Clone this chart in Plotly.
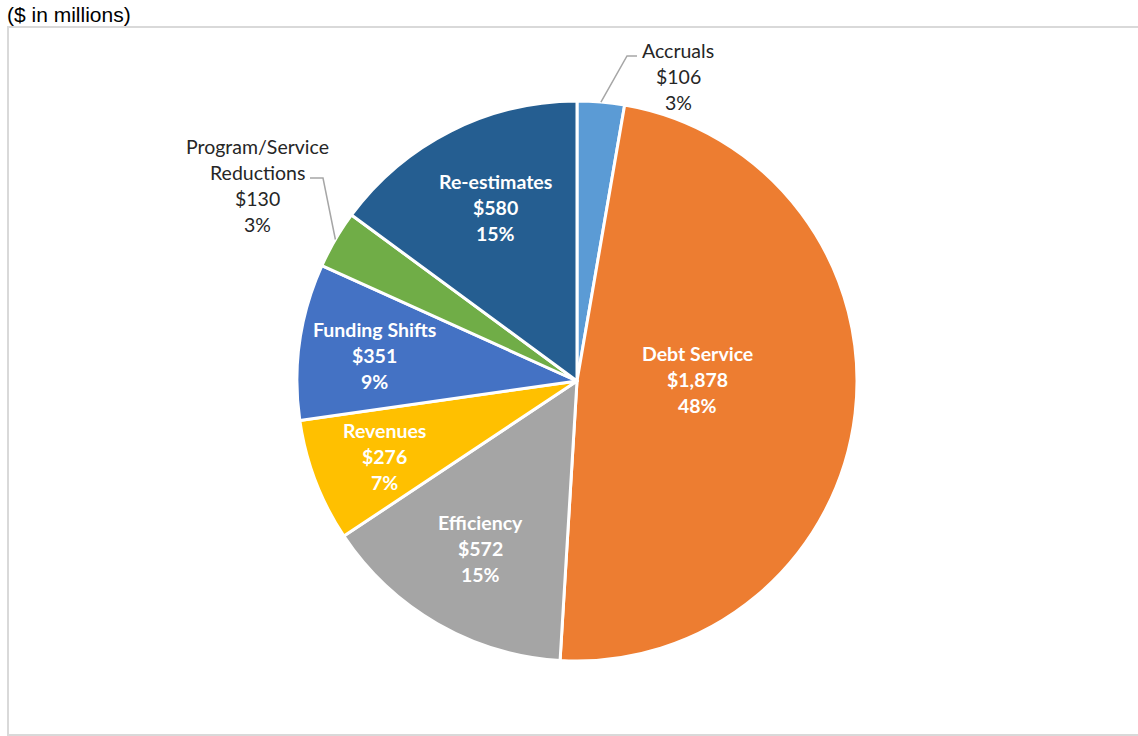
import numpy as np
import plotly.graph_objects as go

# Budget gap-closing components ($ in millions)
categories = ["Accruals", "Debt Service", "Efficiency", "Revenues",
              "Funding Shifts", "Program/Service Reductions", "Re-estimates"]
values = [106, 1878, 572, 276, 351, 130, 580]
colors = ["#5B9BD5", "#ED7D31", "#A5A5A5", "#FFC000",
          "#4472C4", "#70AD47", "#255E91"]

W, H = 1138, 736
CX, CY, R = 577, 381, 280          # pie centre / radius in pixels

# label layout: (x centre px, first-line y px, inside?, display lines of name)
label_layout = {
    "Accruals": (678, 50, False, ["Accruals"]),
    "Debt Service": (697, 353, True, ["Debt Service"]),
    "Efficiency": (480, 522, True, ["Efficiency"]),
    "Revenues": (384, 430, True, ["Revenues"]),
    "Funding Shifts": (374, 329, True, ["Funding Shifts"]),
    "Program/Service Reductions": (257, 146, False, ["Program/Service", "Reductions"]),
    "Re-estimates": (495, 181, True, ["Re-estimates"]),
}
LINE_H = 26.3

fig = go.Figure()
fig.add_trace(go.Pie(
    labels=categories, values=values, sort=False, direction="clockwise",
    rotation=0, marker=dict(colors=colors, line=dict(color="white", width=3)),
    textinfo="none", hoverinfo="label+value+percent", showlegend=False,
    domain=dict(x=[(CX - R) / W, (CX + R) / W], y=[1 - (CY + R) / H, 1 - (CY - R) / H]),
))

total = sum(values)
annotations = []
for name, v in zip(categories, values):
    x, y0, inside, name_lines = label_layout[name]
    pct = round(100 * v / total)
    lines = name_lines + [f"${v:,}", f"{pct}%"]
    for i, line in enumerate(lines):
        annotations.append(dict(
            x=x / W, y=1 - (y0 + i * LINE_H) / H, xref="paper", yref="paper",
            text=f"<b>{line}</b>" if inside else line, showarrow=False,
            xanchor="center", yanchor="middle",
            font=dict(family="Lato, Noto Sans, sans-serif", size=19.5,
                      color="white" if inside else "#262626"),
        ))

annotations.append(dict(
    x=5 / W, y=1 - 15 / H, xref="paper", yref="paper", text="($ in millions)",
    showarrow=False, xanchor="left", yanchor="middle",
    font=dict(family="Liberation Sans, Arial, sans-serif", size=21, color="black"),
))

# leader lines from slice edge to the outside labels
cum = np.cumsum([0] + values) / total
mid = {c: (cum[i] + cum[i + 1]) / 2 for i, c in enumerate(categories)}
leader_elbows = {
    "Accruals": [(627, 56), (637, 56)],
    "Program/Service Reductions": [(323, 178), (310, 178)],
}
shapes = []
for name, elbow in leader_elbows.items():
    ang = 2 * np.pi * mid[name]
    sx, sy = CX + R * np.sin(ang), CY - R * np.cos(ang)
    pts = [(sx, sy)] + elbow
    path = "M " + " L ".join(f"{px / W},{1 - py / H}" for px, py in pts)
    shapes.append(dict(type="path", path=path, xref="paper", yref="paper",
                       line=dict(color="#A6A6A6", width=1.5)))

# chart frame
shapes.append(dict(type="rect", xref="paper", yref="paper",
                   x0=8 / W, x1=1.01, y0=1 - 735 / H, y1=1 - 27 / H,
                   line=dict(color="#D9D9D9", width=2), layer="below"))

fig.update_layout(
    width=W, height=H, margin=dict(l=0, r=0, t=0, b=0),
    paper_bgcolor="white", plot_bgcolor="white",
    annotations=annotations, shapes=shapes,
)
fig.write_html("out.html")
